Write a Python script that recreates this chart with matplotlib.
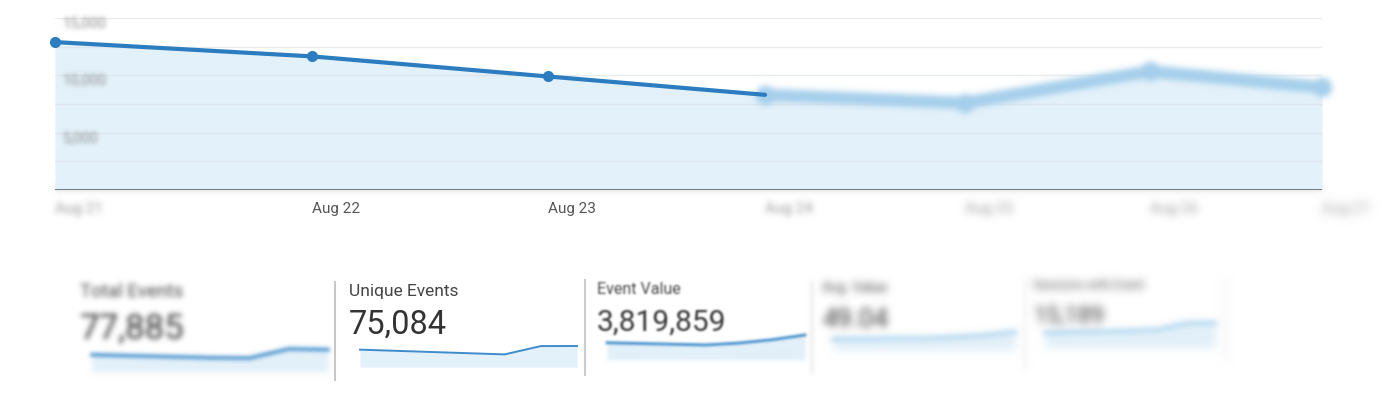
import numpy as np
import matplotlib
matplotlib.use('Agg')
import matplotlib.pyplot as plt
from matplotlib.lines import Line2D
from matplotlib.transforms import blended_transform_factory

plt.rcParams['font.family'] = ['Roboto', 'DejaVu Sans']

W, H = 1396, 400

# main chart data
days = ['Aug 21', 'Aug 22', 'Aug 23', 'Aug 24', 'Aug 25', 'Aug 26', 'Aug 27']
daily_events = [12900, 11650, 9900, 8300, 7600, 10350, 8950]
y_grid = [0, 2500, 5000, 7500, 10000, 12500, 15000]
y_labels = {5000: '5,000', 10000: '10,000', 15000: '15,000'}

# scorecards
card_titles = ['Total Events', 'Unique Events', 'Event Value', 'Avg. Value', 'Sessions with Event']
card_values = ['77,885', '75,084', '3,819,859', '49.04', '15,189']
spark_total = [11100, 11000, 10900, 10800, 10750, 11700, 11635]
spark_unique = [10760, 10700, 10640, 10580, 10520, 10940, 10944]
spark_value = [540000, 535000, 530000, 525000, 538000, 560000, 591859]
spark_avg = [48.6, 48.6, 48.7, 48.7, 49.0, 49.4, 50.2]
spark_sessions = [2050, 2070, 2090, 2110, 2150, 2350, 2369]
sparks = [spark_total, spark_unique, spark_value, spark_avg, spark_sessions]

BLUE = '#2b7dc0'
LIGHT = '#e3f1fa'


def blur(sigma):
    # gaussian blur used as agg filter, to mimic the out-of-focus photo
    r = int(3 * sigma) + 1
    w = np.exp(-0.5 * (np.arange(-r, r + 1) / sigma) ** 2)
    w /= w.sum()

    def filt(im, dpi):
        a = np.pad(im, ((r, r), (r, r), (0, 0)))
        a[..., :3] *= a[..., 3:]
        for axis in (0, 1):
            out = np.zeros_like(a)
            for i, wi in enumerate(w):
                out += wi * np.roll(a, i - r, axis=axis)
            a = out
        alpha = a[..., 3:]
        a[..., :3] = np.where(alpha > 1e-4, a[..., :3] / np.maximum(alpha, 1e-4), 0)
        return np.clip(a, 0, 1), -r, -r
    return filt


def box(x0, y0, x1, y1):
    return [x0 / W, 1 - y1 / H, (x1 - x0) / W, (y1 - y0) / H]


def ftext(x, y, s, sig=0, **kw):
    t = fig.text(x / W, 1 - y / H, s, **kw)
    if sig:
        t.set_agg_filter(blur(sig))
    return t


fig = plt.figure(figsize=(W / 100, H / 100), dpi=100)

# ---- main area chart, x scale squeezed like the photo's perspective
k = 0.0458
ax = fig.add_axes(box(55, 18, 1322, 190))
ax.set_xscale('function', functions=(lambda x: x / (1 + k * x),
                                     lambda u: u / (1 - k * u)))
x = np.arange(len(days))
ax.fill_between(x, daily_events, color=LIGHT, lw=0, zorder=1)
ax.plot(x[:4], daily_events[:4], color=BLUE, lw=3, marker='o', ms=7,
        markevery=[0, 1, 2], clip_on=False, solid_capstyle='round', zorder=4)
far, = ax.plot(x[3:], daily_events[3:], color='#a5cfec', lw=9, marker='o', ms=13,
               clip_on=False, zorder=3)
far.set_agg_filter(blur(3))
ax.set_xlim(0, 6)
ax.set_ylim(0, 15000)
ax.set_yticks(y_grid)
ax.yaxis.grid(True, color='#d8dde0', lw=1, alpha=0.55, zorder=2)
ax.tick_params(length=0, labelleft=False, labelbottom=False)
for s in ax.spines.values():
    s.set_visible(False)
ax.axhline(0, color='#555555', lw=1.8, zorder=5)
shadow = ax.axhline(0, color='#cfcfcf', lw=6, zorder=0)
shadow.set_agg_filter(blur(3))

ytr = blended_transform_factory(ax.transAxes, ax.transData)
for v, lab in y_labels.items():
    t = ax.text(0.006, v - 450, lab, transform=ytr, va='center', ha='left',
                fontsize=10.5, color='#8c8c8c')
    t.set_agg_filter(blur(2.2))

xtr = blended_transform_factory(ax.transData, ax.transAxes)
label_blur = [3, 0, 0, 3, 4, 4, 5]
for i, d in enumerate(days):
    t = ax.text(i, -0.11, d, transform=xtr, ha='left', va='center',
                fontsize=11, color='#555555' if label_blur[i] == 0 else '#9a9a9a')
    if label_blur[i]:
        t.set_agg_filter(blur(label_blur[i]))

# ---- scorecards
card_x = [80, 349, 597, 822, 1033]
title_y = [297, 296, 294, 292, 289]
value_y = [338, 334, 331, 327, 323]
title_fs = [13.5, 12.5, 11.5, 10, 9]
value_fs = [25, 23.5, 21.5, 19, 17]
text_blur = [2.8, 0, 1, 4, 4.5]
spark_box = [(92, 349, 328, 372), (360, 346, 577, 367), (607, 335, 805, 360),
             (833, 332, 1015, 350), (1045, 323, 1215, 348)]
spark_blur = [2, 0, 1.2, 3, 3]

for i in range(5):
    ftext(card_x[i], title_y[i], card_titles[i], sig=text_blur[i],
          fontsize=title_fs[i], color='#444444', va='baseline')
    ftext(card_x[i], value_y[i], card_values[i], sig=text_blur[i],
          fontsize=value_fs[i], color='#333333', va='baseline')

    vals = sparks[i]
    lo, hi = min(vals), max(vals)
    sax = fig.add_axes(box(*spark_box[i]))
    sx = np.arange(len(vals))
    fill = sax.fill_between(sx, vals, lo - 1.5 * (hi - lo), color=LIGHT, lw=0)
    ln, = sax.plot(sx, vals, color='#3f8ccb' if i < 3 else '#a9d2ee',
                   lw=[2.5, 1.4, 2][i] if i < 3 else 3, clip_on=False)
    sax.set_xlim(0, len(vals) - 1)
    sax.set_ylim(lo - 1.5 * (hi - lo), hi)
    sax.axis('off')
    if spark_blur[i]:
        fill.set_agg_filter(blur(spark_blur[i]))
        ln.set_agg_filter(blur(spark_blur[i]))

# card dividers
for xd, y0, y1, c, sig in [(335, 282, 380, '#c8c8c8', 0), (585, 280, 375, '#cccccc', 0),
                           (812, 282, 372, '#e4e4e4', 2), (1025, 280, 368, '#ececec', 3),
                           (1225, 278, 362, '#f0f0f0', 4)]:
    ln = Line2D([xd / W, xd / W], [1 - y0 / H, 1 - y1 / H], color=c, lw=1.5,
                transform=fig.transFigure)
    if sig:
        ln.set_agg_filter(blur(sig))
    fig.add_artist(ln)

fig.savefig('out.png', dpi=100)
